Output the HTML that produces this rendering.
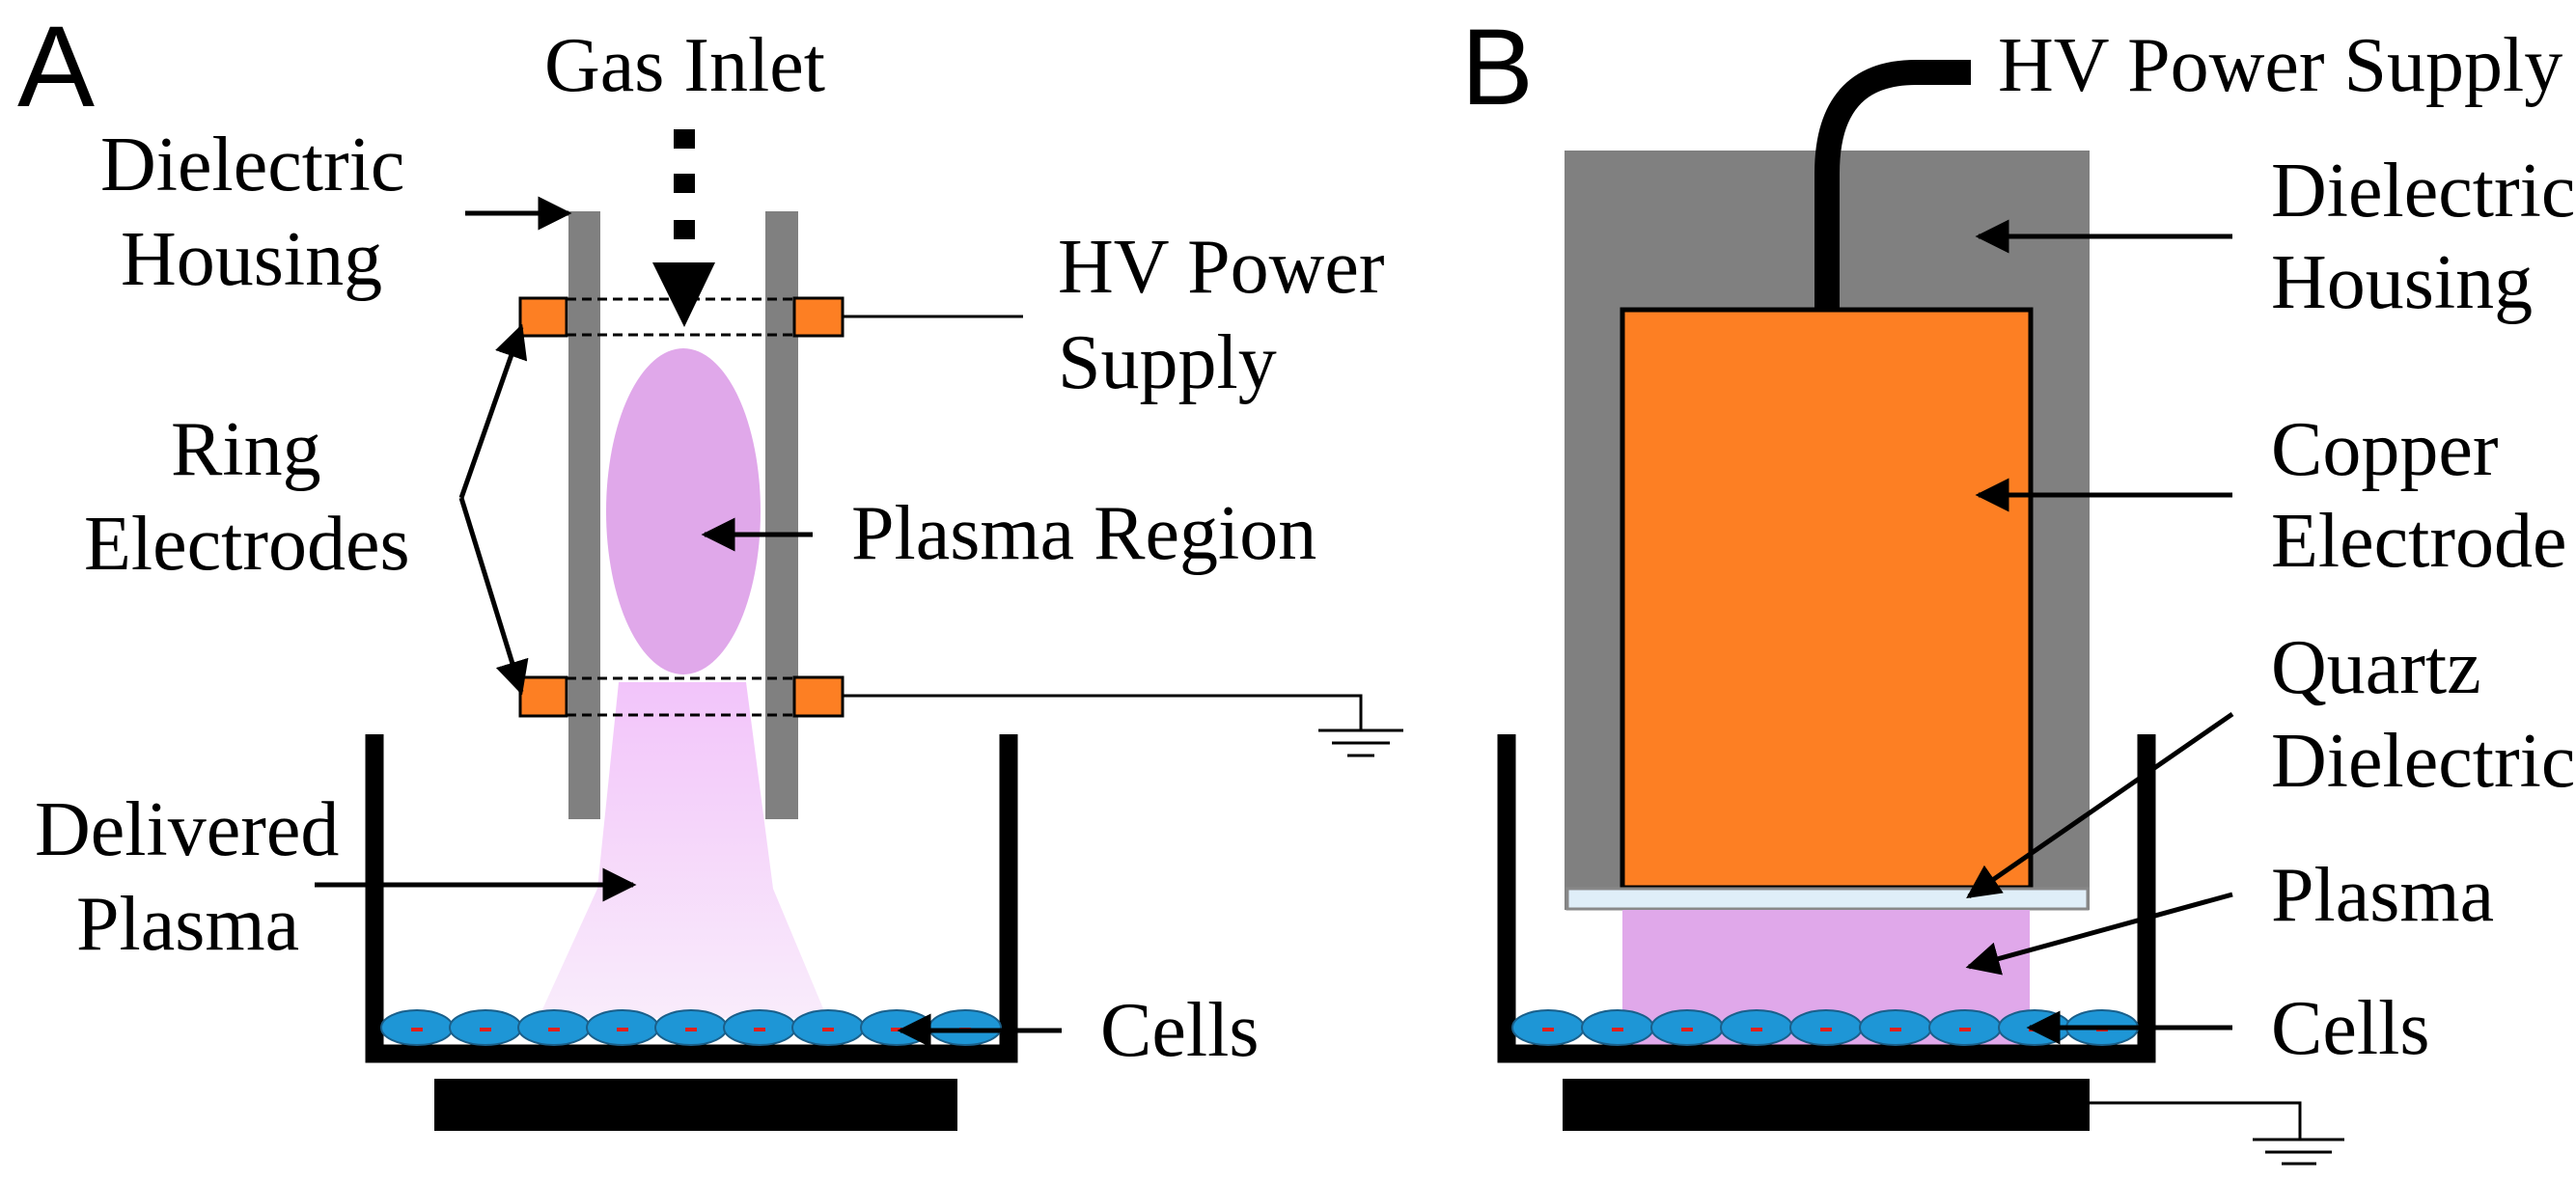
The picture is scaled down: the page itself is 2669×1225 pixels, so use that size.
<!DOCTYPE html>
<html><head><meta charset="utf-8"><style>
html,body{margin:0;padding:0;background:#fff;}
svg{display:block;}
text{font-family:"Liberation Serif",serif;font-size:80px;fill:#000;}
</style></head><body>
<svg width="2669" height="1225" viewBox="0 0 2669 1225" xmlns="http://www.w3.org/2000/svg">
<defs>
<marker id="ah" viewBox="0 0 10 10" refX="9" refY="5" markerWidth="7" markerHeight="7" markerUnits="strokeWidth" orient="auto">
<path d="M0,0 L10,5 L0,10 z" fill="#000"/></marker>
<linearGradient id="pg" x1="0" y1="0" x2="0" y2="1">
<stop offset="0" stop-color="#f2c4fa"/><stop offset="1" stop-color="#f9ecfb"/></linearGradient>
<g id="cell">
<ellipse cx="0" cy="0" rx="37" ry="18" fill="#1e96d6" stroke="#1a5f8a" stroke-width="2"/>
<rect x="-6" y="0" width="12" height="4" fill="#e0201c"/>
</g>
</defs>

<!-- Panel A -->
<text x="18" y="110" style="font-family:'Liberation Sans',sans-serif;font-size:120px">A</text>
<text x="564" y="94">Gas Inlet</text>

<path d="M641,707 L773,707 L801,921 L857,1055 L558,1055 L619,921 Z" fill="url(#pg)"/>
<rect x="589" y="219" width="33" height="630" fill="#808080"/>
<rect x="793" y="219" width="34" height="630" fill="#808080"/>
<ellipse cx="708" cy="530" rx="80" ry="169" fill="#e0a8ea"/>
<rect x="698" y="134" width="22" height="20" fill="#000"/>
<rect x="698" y="180" width="22" height="20" fill="#000"/>
<rect x="698" y="228" width="22" height="20" fill="#000"/>
<path d="M676,272 L741,272 L709,339 Z" fill="#000"/>
<g stroke="#000" stroke-width="3">
<rect x="539" y="309" width="48" height="39" fill="#fd7f23"/>
<rect x="823" y="309" width="50" height="39" fill="#fd7f23"/>
<rect x="539" y="702" width="48" height="40" fill="#fd7f23"/>
<rect x="823" y="702" width="50" height="40" fill="#fd7f23"/>
</g>
<g stroke="#000" stroke-width="3" stroke-dasharray="10,6">
<line x1="587" y1="310" x2="823" y2="310"/><line x1="587" y1="347" x2="823" y2="347"/>
<line x1="587" y1="703" x2="823" y2="703"/><line x1="587" y1="741" x2="823" y2="741"/>
</g>
<line x1="873" y1="328" x2="1060" y2="328" stroke="#000" stroke-width="3"/>
<polyline points="873,721 1410,721 1410,756" fill="none" stroke="#000" stroke-width="3"/>
<g stroke="#000" stroke-width="3">
<line x1="1366" y1="757" x2="1454" y2="757"/><line x1="1380" y1="770" x2="1440" y2="770"/><line x1="1396" y1="783" x2="1424" y2="783"/>
</g>
<path d="M388,761 V1092 H1045 V761" fill="none" stroke="#000" stroke-width="19"/>
<rect x="450" y="1118" width="542" height="54" fill="#000"/>
<g>
<use href="#cell" x="432" y="1065"/><use href="#cell" x="503" y="1065"/><use href="#cell" x="574" y="1065"/>
<use href="#cell" x="645" y="1065"/><use href="#cell" x="716" y="1065"/><use href="#cell" x="787" y="1065"/>
<use href="#cell" x="858" y="1065"/><use href="#cell" x="929" y="1065"/><use href="#cell" x="1000" y="1065"/>
</g>
<text x="104" y="197">Dielectric</text>
<text x="125" y="295">Housing</text>
<text x="1096" y="303">HV Power</text>
<text x="1096" y="402">Supply</text>
<text x="177" y="492">Ring</text>
<text x="87" y="590">Electrodes</text>
<text x="882" y="579">Plasma Region</text>
<text x="36" y="886">Delivered</text>
<text x="79" y="984">Plasma</text>
<text x="1140" y="1094">Cells</text>
<g stroke="#000" stroke-width="5" fill="none" marker-end="url(#ah)">
<line x1="482" y1="221" x2="589" y2="221"/>
<line x1="478" y1="516" x2="540" y2="339"/>
<line x1="478" y1="516" x2="540" y2="717"/>
<line x1="842" y1="554" x2="730" y2="554"/>
<line x1="326" y1="917" x2="656" y2="917"/>
<line x1="1100" y1="1068" x2="933" y2="1068"/>
</g>

<!-- Panel B -->
<text x="1514" y="108" style="font-family:'Liberation Sans',sans-serif;font-size:112px">B</text>
<text x="2070" y="94">HV Power Supply</text>
<rect x="1621" y="156" width="544" height="787" fill="#808080"/>
<rect x="1681" y="321" width="423" height="599" fill="#fd7f23" stroke="#000" stroke-width="5"/>
<path d="M2042,75 L1985,75 Q1893,75 1893,180 L1893,320" fill="none" stroke="#000" stroke-width="26"/>
<rect x="1624" y="921" width="539" height="21" fill="#dfeef8" stroke="#888" stroke-width="3"/>
<rect x="1681" y="943" width="422" height="140" fill="#e0a8ea"/>
<path d="M1561,761 V1092 H2224 V761" fill="none" stroke="#000" stroke-width="19"/>
<rect x="1619" y="1118" width="546" height="54" fill="#000"/>
<polyline points="2165,1143 2383,1143 2383,1181" fill="none" stroke="#000" stroke-width="3"/>
<g stroke="#000" stroke-width="3">
<line x1="2334" y1="1181" x2="2429" y2="1181"/><line x1="2347" y1="1194" x2="2416" y2="1194"/><line x1="2364" y1="1206" x2="2400" y2="1206"/>
</g>
<g>
<use href="#cell" x="1604" y="1065"/><use href="#cell" x="1676" y="1065"/><use href="#cell" x="1748" y="1065"/>
<use href="#cell" x="1820" y="1065"/><use href="#cell" x="1892" y="1065"/><use href="#cell" x="1964" y="1065"/>
<use href="#cell" x="2036" y="1065"/><use href="#cell" x="2108" y="1065"/><use href="#cell" x="2178" y="1065"/>
</g>
<text x="2353" y="224">Dielectric</text>
<text x="2353" y="319">Housing</text>
<text x="2353" y="492">Copper</text>
<text x="2353" y="587">Electrode</text>
<text x="2353" y="718">Quartz</text>
<text x="2353" y="815">Dielectric</text>
<text x="2353" y="954">Plasma</text>
<text x="2353" y="1092">Cells</text>
<g stroke="#000" stroke-width="5" fill="none" marker-end="url(#ah)">
<line x1="2313" y1="245" x2="2050" y2="245"/>
<line x1="2313" y1="513" x2="2050" y2="513"/>
<line x1="2313" y1="740" x2="2040" y2="929"/>
<line x1="2313" y1="927" x2="2040" y2="1002"/>
<line x1="2313" y1="1065" x2="2103" y2="1065"/>
</g>
</svg>
</body></html>
